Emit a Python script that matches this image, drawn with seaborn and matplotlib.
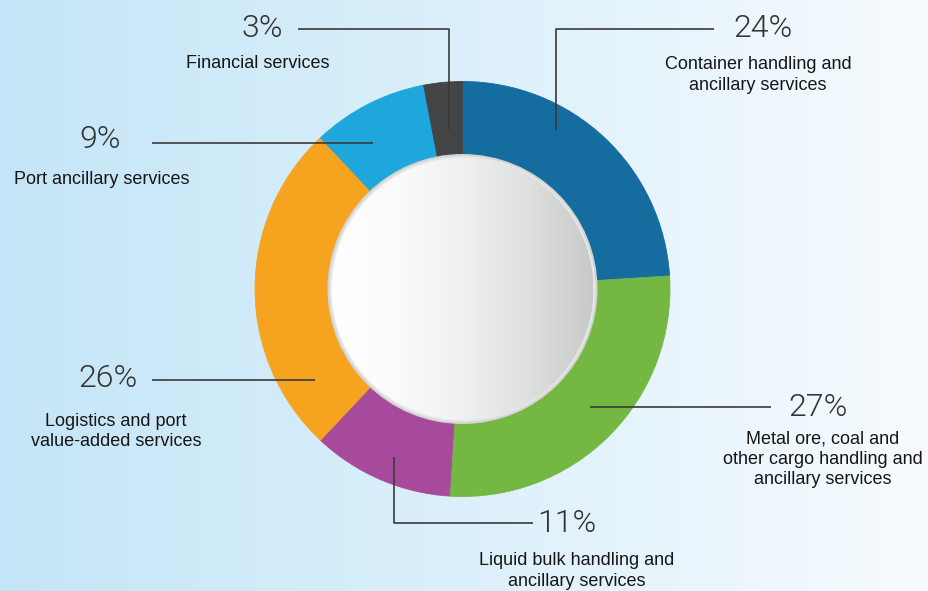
import numpy as np
import matplotlib
matplotlib.use("Agg")
import matplotlib.pyplot as plt
from matplotlib.patches import Circle
from matplotlib.colors import LinearSegmentedColormap
import seaborn as sns

# Revenue mix by business segment (%), clockwise from 12 o'clock
segments = [
    "Container handling and\nancillary services",
    "Metal ore, coal and\nother cargo handling and\nancillary services",
    "Liquid bulk handling and\nancillary services",
    "Logistics and port\nvalue-added services",
    "Port ancillary services",
    "Financial services",
]
shares = [24, 27, 11, 26, 9, 3]
colors = ["#146c9f", "#74b843", "#a84a9b", "#f6a41f", "#1fa7dc", "#434446"]

# Label layout in pixel space (x, y from top): percentage, caption, leader path
pct_pos = [(763, 37), (818, 416), (567, 532), (108, 387), (100, 148), (262, 37)]
cap_pos = [(758, 69), (823, 443), (577, 565), (116, 426), (102, 184), (258, 68)]
leaders = [
    [(556, 130), (556, 29), (714, 29)],
    [(590, 407), (771, 407)],
    [(394, 457), (394, 523), (533, 523)],
    [(315, 380), (152, 380)],
    [(373, 143), (152, 143)],
    [(449, 130), (449, 29), (298, 29)],
]

sns.set_theme(style="white")
plt.rcParams["font.family"] = ["Liberation Sans", "DejaVu Sans"]

W, H = 929, 591
fig = plt.figure(figsize=(W / 100, H / 100), dpi=100)
ax = fig.add_axes([0, 0, 1, 1])


def fy(y):
    return H - y


# Soft blue-to-white background wash
bg = LinearSegmentedColormap.from_list("bg", ["#c4e5f7", "#dcf0fb", "#f7fbfe"])
grad = np.linspace(0, 1, 512)[None, :]
ax.imshow(grad, cmap=bg, extent=[0, W, 0, H], aspect="auto", zorder=0)

cx, cy, R = 462.5, fy(289), 207.5
wedges, _ = ax.pie(
    shares, colors=colors, startangle=90, counterclock=False,
    center=(cx, cy), radius=R, frame=True,
    wedgeprops=dict(width=95, linewidth=0.6, antialiased=True),
)
for w, c in zip(wedges, colors):
    w.set_edgecolor(c)
    w.set_zorder(2)

# Raised centre disc with a soft grey rim
ax.add_patch(Circle((cx, cy), 135, fc="#d3d4d4", ec="none", zorder=3))
ax.add_patch(Circle((cx, cy), 133, fc="#e6e6e6", ec="none", zorder=3))
disc = LinearSegmentedColormap.from_list(
    "disc", ["#ffffff", "#fbfbfb", "#f0f1f1", "#dfe0e0", "#c8c9c9"])
r_in = 131
img = ax.imshow(grad, cmap=disc, extent=[cx - r_in, cx + r_in, cy - r_in, cy + r_in],
                aspect="auto", zorder=4)
clip = Circle((cx, cy), r_in, transform=ax.transData)
img.set_clip_path(clip)

# Leader lines, percentages and captions
for name, v, (px, py), (lx, ly), path in zip(segments, shares, pct_pos, cap_pos, leaders):
    xs = [p[0] for p in path]
    ys = [fy(p[1]) for p in path]
    ax.plot(xs, ys, color="#3a3a3a", lw=1.2, solid_capstyle="butt", zorder=5)
    ax.text(px, fy(py), f"{v}%", ha="center", va="baseline", fontsize=23,
            family=["Roboto", "Liberation Sans"], fontweight=300,
            color="#333333", zorder=6)
    for i, line in enumerate(name.split("\n")):
        ax.text(lx, fy(ly + i * 20.5), line, ha="center", va="baseline",
                fontsize=13, color="#161616", zorder=6)

ax.set_xlim(0, W)
ax.set_ylim(0, H)
ax.set_aspect("auto")
ax.axis("off")

fig.savefig("out.png", dpi=100)
